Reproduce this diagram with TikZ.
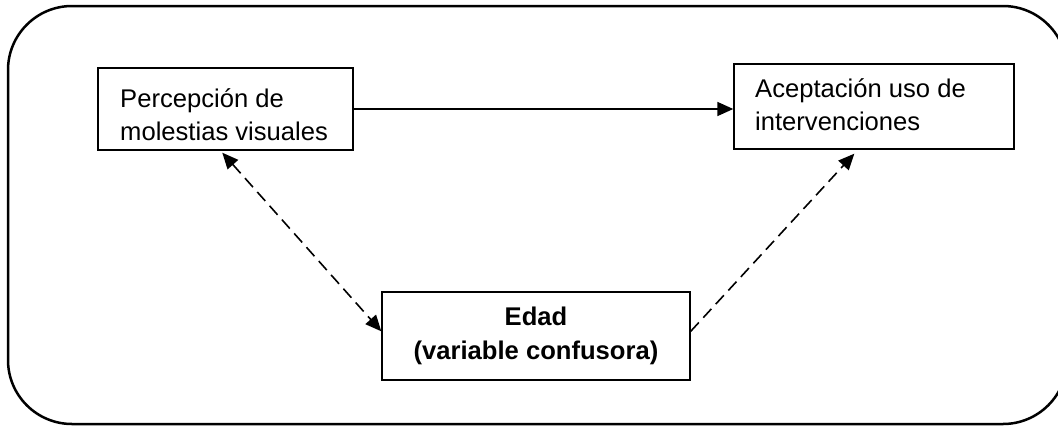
\documentclass[tikz,border=0pt]{standalone}
\usepackage{fontspec}
\setmainfont{Liberation Sans}
\usetikzlibrary{arrows.meta}
\begin{document}
\begin{tikzpicture}[x=1pt,y=-1pt,
  box/.style={draw, line width=1.4pt, inner sep=0pt},
  lbl/.style={inner sep=0pt, font=\fontsize{25.6}{33}\selectfont},
  arr/.style={line width=1.6pt, -{Triangle[length=16pt,width=14pt]}},
  dsh/.style={line width=1.6pt, dash pattern=on 12pt off 6.5pt}]
\useasboundingbox (0,0) rectangle (1058,426);
% outer frame (its right side runs past the page edge)
\begin{scope}
\clip (0,0) rectangle (1058,426);
\draw[line width=2.5pt, rounded corners=64pt] (8,6) rectangle (1067,424);
\end{scope}
% boxes
\node[box, minimum width=255pt, minimum height=82pt] (perc) at (225.5,109) {};
\node[box, minimum width=280pt, minimum height=85pt] (acep) at (874,106.5) {};
\node[box, minimum width=308pt, minimum height=88pt] (edad) at (536,336) {};
% box texts (anchored on the baseline of their last line)
\node[lbl, anchor=base west, align=left] (tperc) at (120,140) {Percepción de\\molestias visuales};
\node[lbl, anchor=base west, align=left] (tacep) at (755,130) {Aceptación uso de\\intervenciones};
\node[lbl, anchor=base, align=center, font=\fontsize{25.6}{34}\selectfont\bfseries] (tedad) at (536,359) {Edad\\(variable confusora)};
% connectors
\draw[arr] (perc.east) -- (perc.east -| acep.west);
\draw[dsh, {Triangle[length=16pt,width=14pt]}-{Triangle[length=16pt,width=14pt]}]
  ([xshift=125pt,yshift=-2pt]perc.south west) -- ([yshift=-40pt]edad.north west);
\draw[dsh, -{Triangle[length=16pt,width=14pt]}]
  ([yshift=-40pt]edad.north east) -- ([xshift=121pt,yshift=-4pt]acep.south west);
\end{tikzpicture}
\end{document}
